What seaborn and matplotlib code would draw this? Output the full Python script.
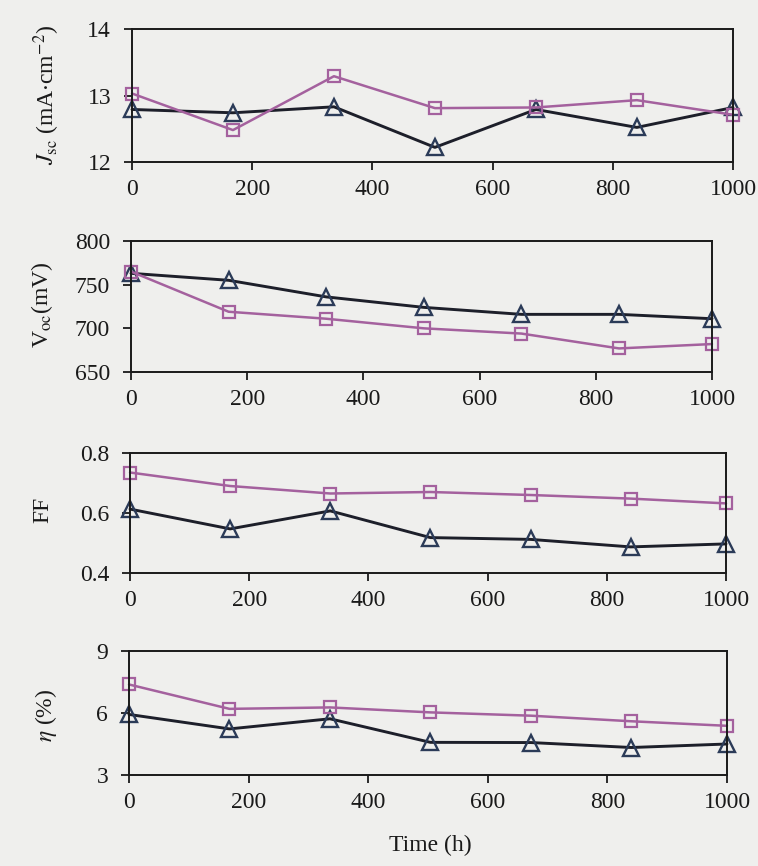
import matplotlib
matplotlib.use("Agg")
import matplotlib.pyplot as plt
import seaborn as sns
import pandas as pd

# ageing time (h) and photovoltaic parameters of the two cells
hours = [0, 168, 336, 504, 672, 840, 1000]

jsc_square = [13.03, 12.48, 13.29, 12.81, 12.82, 12.93, 12.71]
jsc_triangle = [12.79, 12.74, 12.83, 12.22, 12.79, 12.52, 12.82]

voc_square = [765, 719, 711, 700, 694, 677, 682]
voc_triangle = [763, 755, 736, 724, 716, 716, 711]

ff_square = [0.735, 0.690, 0.665, 0.670, 0.660, 0.648, 0.632]
ff_triangle = [0.613, 0.547, 0.607, 0.518, 0.512, 0.487, 0.497]

eta_square = [7.38, 6.20, 6.27, 6.03, 5.87, 5.60, 5.38]
eta_triangle = [5.93, 5.23, 5.72, 4.58, 4.57, 4.33, 4.50]

y_labels = [r"$J_{\rm sc}$ (mA$\cdot$cm$^{-2}$)", r"V$_{\rm oc}$(mV)", "FF", r"$\eta$ (%)"]
y_limits = [(12, 14), (650, 800), (0.4, 0.8), (3, 9)]
y_ticks = [[12, 13, 14], [650, 700, 750, 800], [0.4, 0.6, 0.8], [3, 6, 9]]
y_ticklabels = [["12", "13", "14"], ["650", "700", "750", "800"],
                ["0.4", "0.6", "0.8"], ["3", "6", "9"]]
x_ticks = [0, 200, 400, 600, 800, 1000]

sns.set_theme(style="ticks")
plt.rcParams["font.family"] = ["Liberation Serif", "DejaVu Serif"]
plt.rcParams["mathtext.fontset"] = "stix"

paper = "#efefed"
pink = "#a4619e"
navy_line = "#1d1f2a"
navy_edge = "#2b3b58"
ink = "#1a1a1a"
fs = 17

W, H = 758, 866
fig = plt.figure(figsize=(W / 100, H / 100), dpi=100, facecolor=paper)

# panel boxes in pixels: left, right, top, bottom
boxes = [(132, 733, 29, 162), (131, 712, 241, 372), (130, 726, 453, 573), (129, 727, 651, 775)]
label_pos = [(47, 95), (42, 305), (43, 510), (46, 715)]

series = [(jsc_square, jsc_triangle), (voc_square, voc_triangle),
          (ff_square, ff_triangle), (eta_square, eta_triangle)]

for i, ((x0, x1, yt, yb), (sq, tri)) in enumerate(zip(boxes, series)):
    ax = fig.add_axes([x0 / W, 1 - yb / H, (x1 - x0) / W, (yb - yt) / H])
    ax.set_facecolor("none")
    df = pd.DataFrame({"t": hours, "sq": sq, "tri": tri})
    sns.lineplot(data=df, x="t", y="tri", ax=ax, color=navy_line, lw=2.1,
                 marker="^", markersize=11.5, markerfacecolor="none",
                 markeredgecolor=navy_edge, markeredgewidth=1.7, clip_on=False)
    sns.lineplot(data=df, x="t", y="sq", ax=ax, color=pink, lw=1.8,
                 marker="s", markersize=9, markerfacecolor="none",
                 markeredgecolor=pink, markeredgewidth=1.6, clip_on=False)
    ax.set_xlim(0, 1000)
    ax.set_ylim(*y_limits[i])
    ax.set_xticks(x_ticks)
    ax.set_xticklabels([str(v) for v in x_ticks])
    ax.set_yticks(y_ticks[i])
    ax.set_yticklabels(y_ticklabels[i])
    ax.set_xlabel("")
    ax.set_ylabel("")
    for s in ax.spines.values():
        s.set_visible(True)
        s.set_color(ink)
        s.set_linewidth(1.4)
    ax.tick_params(axis="both", direction="out", length=6, width=1.3,
                   color=ink, labelsize=fs, labelcolor=ink)
    ax.tick_params(axis="y", pad=9)
    ax.tick_params(axis="x", pad=6)
    lx, ly = label_pos[i]
    fig.text(lx / W, 1 - ly / H, y_labels[i], rotation=90, ha="center", va="center",
             fontsize=fs, color=ink)

fig.text(430 / W, 1 - 845 / H, "Time (h)", ha="center", va="center",
         fontsize=fs, color=ink)

fig.savefig("out.png", dpi=100, facecolor=paper)
